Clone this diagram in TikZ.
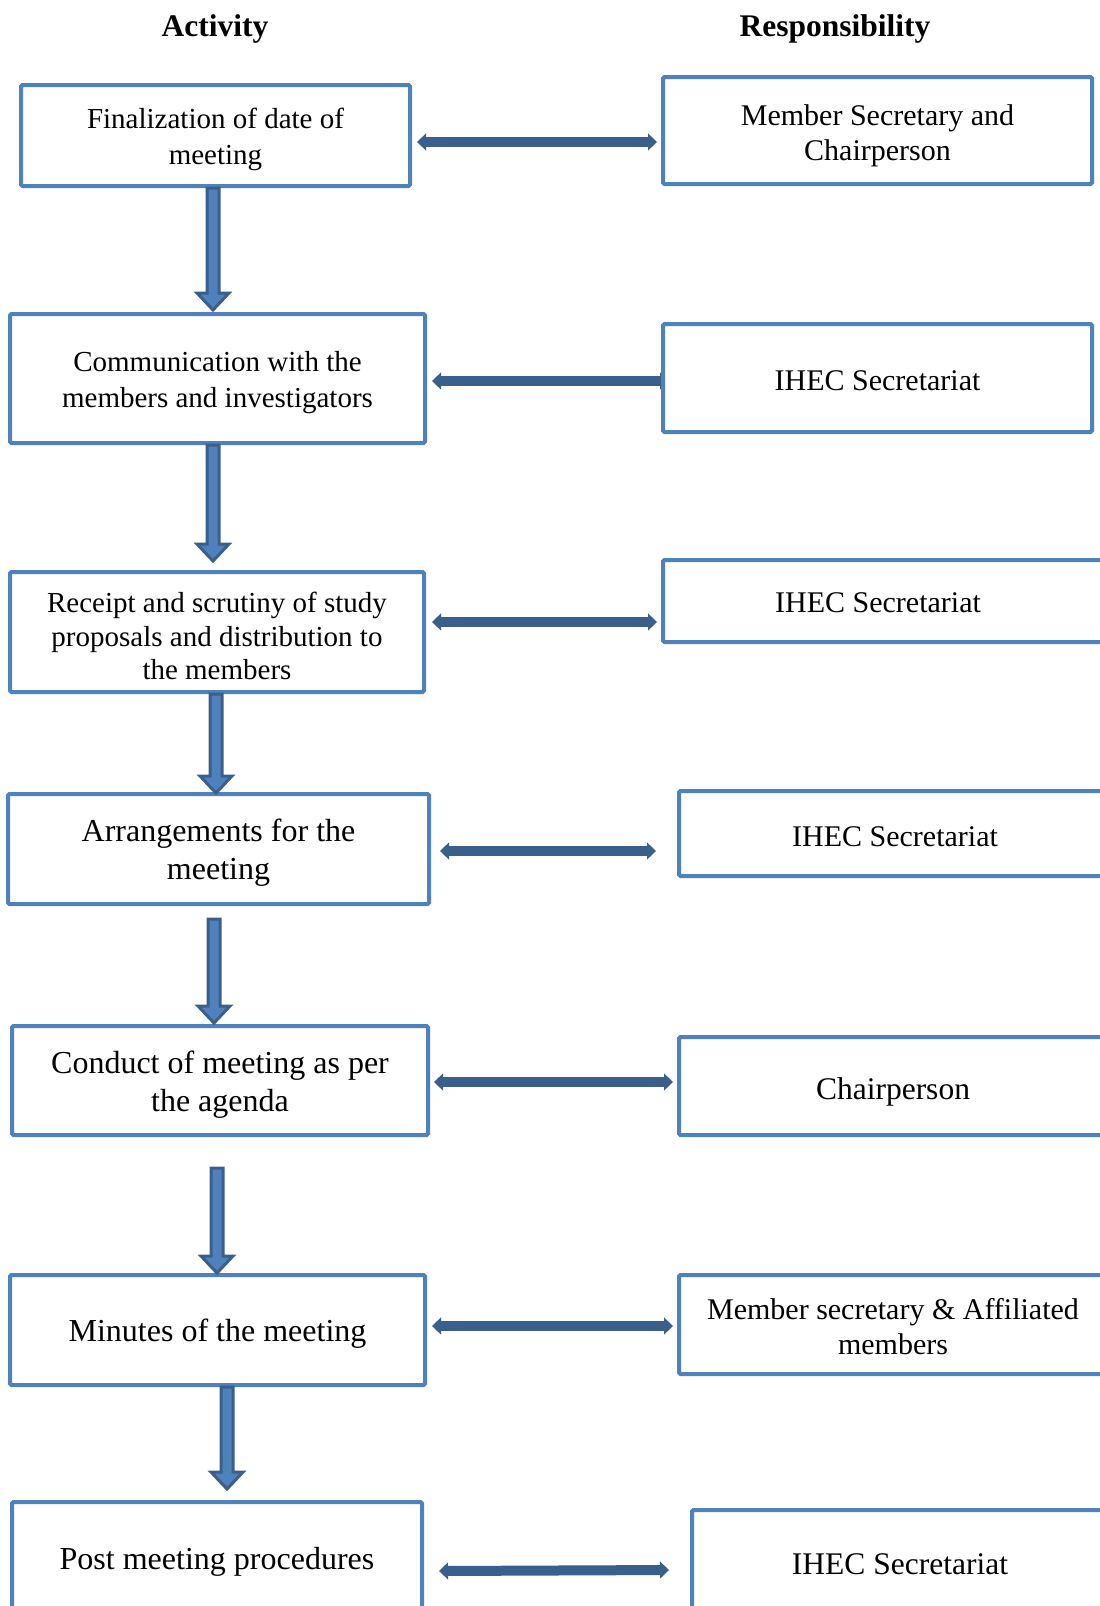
\documentclass[tikz,border=0pt]{standalone}
\usepackage{fontspec}
\setmainfont{Liberation Serif}
\usetikzlibrary{arrows.meta,calc}
\definecolor{boxblue}{HTML}{4F81BD}
\definecolor{arrowblue}{HTML}{3A5F8B}

\tikzset{
  flowbox/.style={draw=boxblue, line width=4pt, fill=white, rounded corners=1.5pt,
    inner sep=0pt},
  boxtext/.style={align=center, inner sep=0pt},
  harrow/.style={draw=arrowblue, line width=10pt,
    {Triangle[length=9pt,width=17pt,line width=1pt]}-{Triangle[length=9pt,width=17pt,line width=1pt]}},
  varrow/.style={draw=arrowblue, fill=boxblue, line width=3pt, line join=miter},
  colhead/.style={font=\bfseries\fontsize{31.5}{36}\selectfont},
  fsA/.style={boxtext, font=\fontsize{29}{36}\selectfont},
  fsB/.style={boxtext, font=\fontsize{29}{33.5}\selectfont},
  fsC/.style={boxtext, font=\fontsize{32}{38}\selectfont},
  fsR/.style={boxtext, font=\fontsize{30}{35}\selectfont},
  fsRL/.style={boxtext, font=\fontsize{31.5}{35}\selectfont},
}

% block arrow pointing down from #1 to #2 (same x)
\newcommand\blockdown[2]{%
  \path[varrow] let \p1=#1, \p2=#2 in
    (\x1-6pt,\y1) -- (\x1-6pt,\y2+19pt) -- (\x1-16pt,\y2+19pt) -- (\x1,\y2+2pt)
    -- (\x1+16pt,\y2+19pt) -- (\x1+6pt,\y2+19pt) -- (\x1+6pt,\y1) -- cycle;}

\begin{document}
\begin{tikzpicture}[x=1pt,y=-1pt]
\useasboundingbox (0,0) rectangle (1100,1606);

% column headings
\node[colhead] (hact) at (215,29) {Activity};
\node[colhead] (hresp) at (835,29) {Responsibility};

% activity boxes
\node[flowbox, minimum width=389, minimum height=101] (a1) at (215.5,135.5) {};
\node[flowbox, minimum width=415, minimum height=129] (a2) at (217.5,378.5) {};
\node[flowbox, minimum width=414, minimum height=120] (a3) at (217,632) {};
\node[flowbox, minimum width=421, minimum height=110] (a4) at (218.5,849) {};
\node[flowbox, minimum width=416, minimum height=109] (a5) at (220,1080.5) {};
\node[flowbox, minimum width=415, minimum height=110] (a6) at (217.5,1330) {};
\node[flowbox, minimum width=410, minimum height=112] (a7) at (217,1558) {};

% links between activity and responsibility
\draw[harrow] ($(a1.east)+(5,6.5)$) -- ($(663,130.5)+(-6,11.5)$) coordinate (h1r);
\draw[harrow] ($(a2.east)+(5,2.5)$) -- ($(663,378)+(6,3)$) coordinate (h2r);
\draw[harrow] ($(a3.east)+(6,-10)$) -- ($(663,601)+(-6,21)$) coordinate (h3r);
\draw[harrow] ($(a4.east)+(9,2)$) -- ($(679,833.5)+(-23,17.5)$) coordinate (h4r);
\draw[harrow] ($(a5.east)+(4,1.5)$) -- ($(679,1086)+(-6,-4)$) coordinate (h5r);
\draw[harrow] ($(a6.east)+(5,-4)$) -- ($(679,1324.5)+(-6,1.5)$) coordinate (h6r);
\draw[harrow] ($(a7.east)+(15,13)$) -- ($(692,1565)+(-23,5)$) coordinate (h7r);

% responsibility boxes
\node[flowbox, minimum width=429, minimum height=107] (r1) at (877.5,130.5) {};
\node[flowbox, minimum width=429, minimum height=108] (r2) at (877.5,378) {};
\node[flowbox, minimum width=460, minimum height=82] (r3) at (893,601) {};
\node[flowbox, minimum width=444, minimum height=85] (r4) at (901,833.5) {};
\node[flowbox, minimum width=444, minimum height=98] (r5) at (901,1086) {};
\node[flowbox, minimum width=444, minimum height=99] (r6) at (901,1324.5) {};
\node[flowbox, minimum width=430, minimum height=110] (r7) at (907,1565) {};

% box texts
\node[fsA] (a1t) at (215.5,139.5) {Finalization of date of\\meeting};
\node[fsA] (a2t) at (217.5,382.5) {Communication with the\\members and investigators};
\node[fsB] (a3t) at (217,636) {Receipt and scrutiny of study\\proposals and distribution to\\the members};
\node[fsC] (a4t) at (218.5,853) {Arrangements for the\\meeting};
\node[fsC] (a5t) at (220,1084.5) {Conduct of meeting as per\\the agenda};
\node[fsC] (a6t) at (217.5,1334) {Minutes of the meeting};
\node[fsC] (a7t) at (217,1562) {Post meeting procedures};

\node[fsR] (r1t) at (877.5,135.5) {Member Secretary and\\Chairperson};
\node[fsR] (r2t) at (877.5,381) {IHEC Secretariat};
\node[fsR] (r3t) at (878,603) {IHEC Secretariat};
\node[fsR] (r4t) at (895,837) {IHEC Secretariat};
\node[fsRL] (r5t) at (893,1092) {Chairperson};
\node[fsR] (r6t) at (893,1327) {Member secretary \& Affiliated\\members};
\node[fsRL] (r7t) at (900,1564) {IHEC Secretariat};

% flow from one activity to the next
\blockdown{($(a1.south)+(-2.5,0)$)}{($(a2.north)+(-4.5,0)$)}
\blockdown{($(a2.south)+(-4.5,0)$)}{($(a3.north)+(-4,-7)$)}
\blockdown{($(a3.south)+(-1,0)$)}{($(a4.north)+(-2.5,3)$)}
\blockdown{($(a4.south)+(-4.5,13)$)}{($(a5.north)+(-6,1)$)}
\blockdown{($(a5.south)+(-3,31)$)}{($(a6.north)+(-0.5,2)$)}
\blockdown{($(a6.south)+(9.5,0)$)}{($(a7.north)+(10,-9)$)}
\end{tikzpicture}
\end{document}
